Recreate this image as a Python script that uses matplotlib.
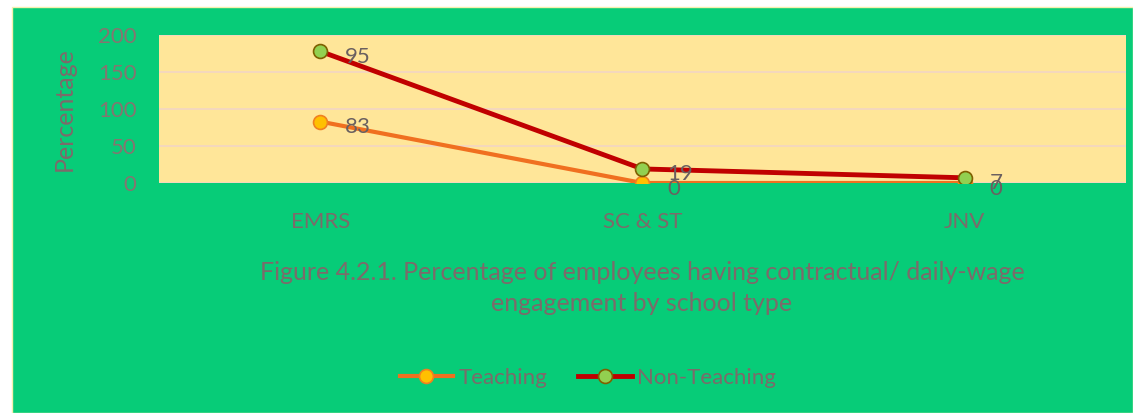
import matplotlib.pyplot as plt
import matplotlib.patches as mpatches
import numpy as np

plt.rcParams['font.family'] = ['Lato', 'DejaVu Sans']

categories = ['EMRS', 'SC & ST', 'JNV']
teaching = [83, 0, 0]
non_teaching = [95, 19, 7]
yticks = [0, 50, 100, 150, 200]

text_col = '#7d6a6a'
bg_green = '#07cc78'

fig = plt.figure(figsize=(11.33, 4.13), dpi=100)
fig.patch.set_facecolor('white')
# green background panel
fig.add_artist(mpatches.Rectangle((12 / 1133, 0), 1 - 12 / 1133, 406 / 413,
                                  transform=fig.transFigure, facecolor=bg_green,
                                  edgecolor='#f5f0b0', linewidth=1.0, zorder=0))

ax = fig.add_axes([0.1403, 0.5569, 0.8535, 0.3584])
ax.set_facecolor('#ffe699')

x = np.arange(len(categories))
stacked = np.array(teaching) + np.array(non_teaching)

ax.plot(x, teaching, color='#f07020', lw=3, marker='o', markersize=10,
        markerfacecolor='#ffc000', markeredgecolor='#f08020', markeredgewidth=1.2,
        label='Teaching', zorder=3)
ax.plot(x, stacked, color='#c00000', lw=3.5, marker='o', markersize=10,
        markerfacecolor='#92d050', markeredgecolor='#7f6000', markeredgewidth=1.2,
        label='Non-Teaching', zorder=4)

# data labels show the series' own values, placed at the stacked position
for xi, yv, v in zip(x, teaching, teaching):
    ax.annotate(str(v), (xi, yv), xytext=(18, -4), textcoords='offset points',
                ha='left', va='center', fontsize=16, color='#6a6060', zorder=5)
for xi, yv, v in zip(x, stacked, non_teaching):
    ax.annotate(str(v), (xi, yv), xytext=(18, -4), textcoords='offset points',
                ha='left', va='center', fontsize=16, color='#6a6060', zorder=5)

ax.set_xlim(-0.5, 2.5)
ax.set_ylim(0, 200)
ax.set_yticks(yticks)
ax.set_xticks(x)
ax.set_xticklabels(categories)
ax.grid(axis='y', color='#f2d6c4', lw=1.2)
ax.set_axisbelow(True)
for s in ax.spines.values():
    s.set_visible(False)
ax.tick_params(axis='y', length=0, pad=16, labelsize=16, labelcolor='#857570')
ax.tick_params(axis='x', length=0, pad=21, labelsize=16, labelcolor=text_col)
ax.set_ylabel('Percentage', fontsize=18, color=text_col, labelpad=16)

fig.text(642 / 1133, 1 - 288 / 413,
         'Figure 4.2.1. Percentage of employees having contractual/ daily-wage\nengagement by school type',
         ha='center', va='center', fontsize=18, color=text_col, linespacing=1.45)

fig.legend(loc='center', bbox_to_anchor=(588 / 1133, 1 - 378 / 413), ncol=2,
           frameon=False, fontsize=16, labelcolor=text_col, handlelength=2.4,
           columnspacing=1.4, handletextpad=0.25)

fig.savefig('out.png', dpi=100)
